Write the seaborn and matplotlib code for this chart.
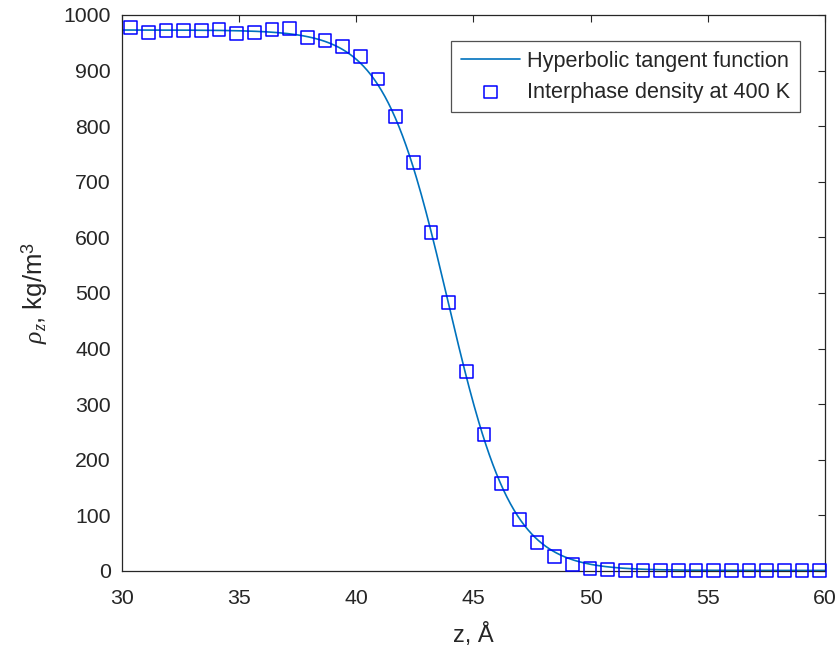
import numpy as np
import pandas as pd
import matplotlib
matplotlib.use("Agg")
import matplotlib.pyplot as plt
import seaborn as sns

# ---- data ----
z_start = 30.37
z_step = 0.754
density = [978, 968, 972, 972, 972, 974, 966, 968, 974, 975,
           959, 954, 944, 925, 885, 817, 734, 609, 483, 359,
           245, 157, 92, 51, 26, 11, 5, 3, 1, 1,
           1, 1, 1, 1, 1, 1, 1, 1, 1, 1]
z_points = [round(z_start + z_step * i, 3) for i in range(len(density))]

# hyperbolic tangent fit parameters
rho_liquid = 973.0
rho_vapour = 1.0
z_interface = 43.9
thickness = 2.73

sns.set_theme(style="white")
plt.rcParams['font.family'] = ['Liberation Sans', 'DejaVu Sans']
plt.rcParams['mathtext.fontset'] = 'custom'
plt.rcParams['mathtext.rm'] = 'Liberation Sans'
plt.rcParams['mathtext.it'] = 'Liberation Serif:italic'

z_curve = np.linspace(30, 60, 600)
rho_curve = 0.5 * (rho_liquid + rho_vapour) - 0.5 * (rho_liquid - rho_vapour) * np.tanh((z_curve - z_interface) / thickness)

fig = plt.figure(figsize=(8.39, 6.46), dpi=100)
ax = fig.add_axes([0.1454, 0.1161, 0.8379, 0.8607])

sns.lineplot(x=z_curve, y=rho_curve, ax=ax, color='#0072BD', linewidth=1.2,
             label='Hyperbolic tangent function')
sns.scatterplot(x=z_points, y=density, ax=ax, marker='s', s=85,
                facecolors='none', edgecolor='#0000FF', linewidth=1.1,
                label='Interphase density at 400 K', clip_on=False, zorder=3)

ax.set_xlim(30, 60)
ax.set_ylim(0, 1000)
ax.set_xticks(range(30, 61, 5))
ax.set_yticks(range(0, 1001, 100))

for s in ax.spines.values():
    s.set_visible(True)
    s.set_color('#262626')
    s.set_linewidth(0.9)
ax.tick_params(direction='in', length=5, width=0.8, color='#262626',
               top=True, right=True, labelsize=15.3, labelcolor='#262626')
ax.tick_params(axis='x', pad=13)
ax.tick_params(axis='y', pad=8)

ax.set_xlabel('z, Å', fontsize=17, color='#262626', labelpad=10.5)
ax.set_ylabel(r'$\rho_z$, kg/m$^{3}$', fontsize=18.5, color='#262626', labelpad=10)

leg = ax.legend(loc='upper right', bbox_to_anchor=(0.964, 0.953), borderaxespad=0,
                fontsize=15.6, frameon=True, fancybox=False, edgecolor='#262626',
                handlelength=2.76, handletextpad=0.3, borderpad=0.45, labelspacing=0.45)
leg.get_frame().set_linewidth(0.9)

fig.savefig('out.png', dpi=100)
